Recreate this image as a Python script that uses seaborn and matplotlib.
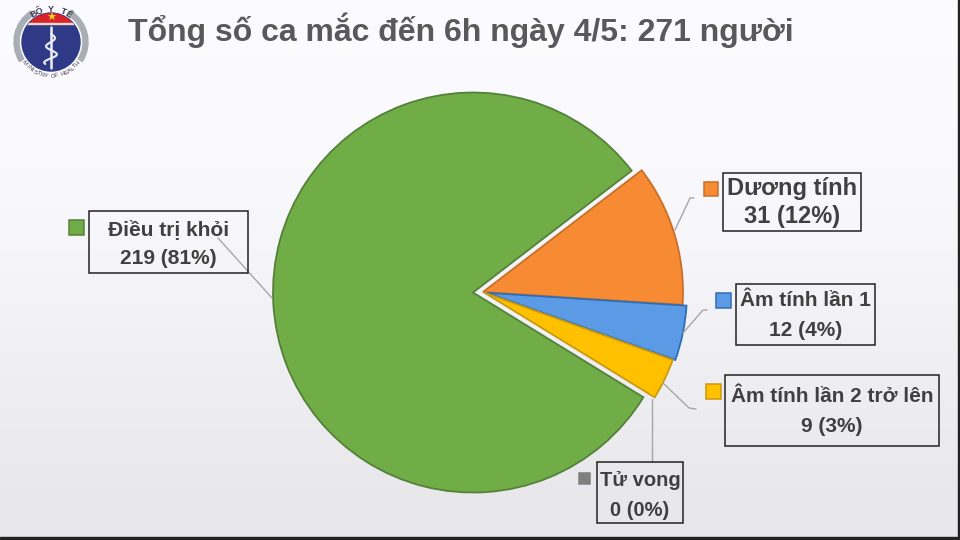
import numpy as np
import matplotlib
matplotlib.use("Agg")
import matplotlib.pyplot as plt
from matplotlib.patches import Rectangle, Circle, Wedge
import seaborn as sns

# ---- data ----
title = "Tổng số ca mắc đến 6h ngày 4/5: 271 người"
categories = ["Dương tính", "Âm tính lần 1", "Âm tính lần 2 trở lên", "Tử vong", "Điều trị khỏi"]
values = [31, 12, 9, 0, 219]
percents = [12, 4, 3, 0, 81]
colors = ["#F68B33", "#5B9BE6", "#FFC000", "#7F7F7F", "#70AD47"]
edges = ["#C8702A", "#2F6DB5", "#C99A10", "#7F7F7F", "#55803A"]

sns.set_theme(style="white")
plt.rcParams["font.family"] = ["Liberation Sans", "DejaVu Sans"]

fig = plt.figure(figsize=(9.6, 5.4), dpi=100)
ax = fig.add_axes([0, 0, 1, 1])

H = 540
def Y(py):
    return H - py

# pie (matplotlib applies the explode offsets in data units, here pixels)
wedges, _ = ax.pie(values, colors=colors, startangle=37.5, counterclock=False,
                   center=(483, Y(292)), radius=200,
                   explode=[0, 4, 1.5, 0, 10],
                   wedgeprops=dict(linewidth=1.3))
for w, e in zip(wedges, edges):
    w.set_edgecolor(e)
wedges[3].set_visible(False)

ax.axis("off")

# background gradient
grad = np.array([[1.0], [0.995], [0.985], [0.965], [0.945], [0.925]])
bg = np.dstack([grad * 0.985, grad * 0.985, grad])
ax.imshow(bg, extent=(0, 960, 0, 540), aspect="auto", zorder=-5, interpolation="bilinear")
ax.set_xlim(0, 960)
ax.set_ylim(0, 540)

ax.text(460.5, Y(30), title, fontsize=23, fontweight="bold", color="#595959",
        ha="center", va="center")

# callouts: box (x0, y0, x1, y1), swatch (x, y, size), leader points, text rows
boxes = [(723, 173, 861, 231), (736, 284, 875, 345), (725, 375, 939, 446),
         (597, 462, 683, 523), (89, 211, 248, 273)]
swatches = [(704, 182, 14), (716, 293, 15), (706, 384, 15), (579, 473, 11), (69, 220, 15)]
leaders = [[(675, 230), (690, 198), (694, 198)],
           [(683, 333), (703, 310), (707, 310)],
           [(663, 383), (689, 408), (696, 409)],
           [(652, 399), (652, 462)],
           [(272, 298), (218, 238)]]
rows = [(189, 217), (300, 331), (397, 426), (480, 510), (229, 258)]
sizes = [17, 15, 15, 14.5, 15]

for name, v, p, b, s, l, c, e, r, fs in zip(categories, values, percents, boxes, swatches,
                                            leaders, colors, edges, rows, sizes):
    xs, ys = zip(*l)
    ax.plot(xs, [Y(y) for y in ys], color="#A6A6A6", lw=1, zorder=3)
    ax.add_patch(Rectangle((b[0], Y(b[3])), b[2] - b[0], b[3] - b[1], facecolor="none",
                           edgecolor="#222222", lw=1.1, zorder=4))
    ax.add_patch(Rectangle((s[0], Y(s[1] + s[2])), s[2], s[2], facecolor=c,
                           edgecolor=e, lw=1.1, zorder=4))
    cx = (b[0] + b[2]) / 2
    ax.text(cx, Y(r[0]), name, fontsize=fs, fontweight="bold", color="#404040",
            ha="center", va="center", zorder=5)
    ax.text(cx, Y(r[1]), f"{v} ({p}%)", fontsize=fs, fontweight="bold", color="#404040",
            ha="center", va="center", zorder=5)

# logo
lx, ly = 51, Y(42)
ax.add_patch(Wedge((lx, ly), 37, 123, 212, width=5, color="#A9AEB5", zorder=3))
ax.add_patch(Wedge((lx, ly), 37, -32, 57, width=5, color="#A9AEB5", zorder=3))
disc = Circle((lx, ly), 29, color="#2E3A86", zorder=3)
ax.add_patch(disc)
red = Rectangle((lx - 30, ly + 19), 60, 12, color="#D8232A", zorder=4)
ax.add_patch(red)
red.set_clip_path(disc)
line = Rectangle((lx - 30, ly + 18), 60, 1.2, color="#F1D9C9", zorder=5)
ax.add_patch(line)
line.set_clip_path(disc)
ax.text(lx, ly + 24, "★", fontsize=8, color="#FFD21F", ha="center", va="center", zorder=6,
        family="DejaVu Sans")
ax.plot([lx, lx], [ly - 26, ly + 15], color="#EDEDF5", lw=1.8, zorder=6)
t = np.linspace(-22, 8, 60)
ax.plot(lx + 7 * np.sin(t / 2.6) * (1 - (t + 22) / 60), ly + t, color="#EDEDF5", lw=1.5, zorder=6)

def curved(text, radius, a0, a1, size, flip=False):
    for ch, a in zip(text, np.linspace(a0, a1, len(text))):
        rad = np.deg2rad(a)
        rot = a + 90 if flip else a - 90
        ax.text(lx + radius * np.cos(rad), ly + radius * np.sin(rad), ch, fontsize=size, rotation=rot,
                rotation_mode="anchor", ha="center", va="center", color="#3A3A4A", zorder=6,
                fontweight="bold" if not flip else "normal")

curved("BỘ Y TẾ", 33, 122, 58, 6.5)
curved("MINISTRY OF HEALTH", 34, 219, 321, 4.2, flip=True)

# screen edges: dark strips at the right and the bottom
ax.add_patch(Rectangle((958, 0), 2, 540, color="#222222", zorder=8))
ax.add_patch(Rectangle((0, 0), 960, 3, color="#222222", zorder=8))

fig.savefig("out.png", dpi=100)
